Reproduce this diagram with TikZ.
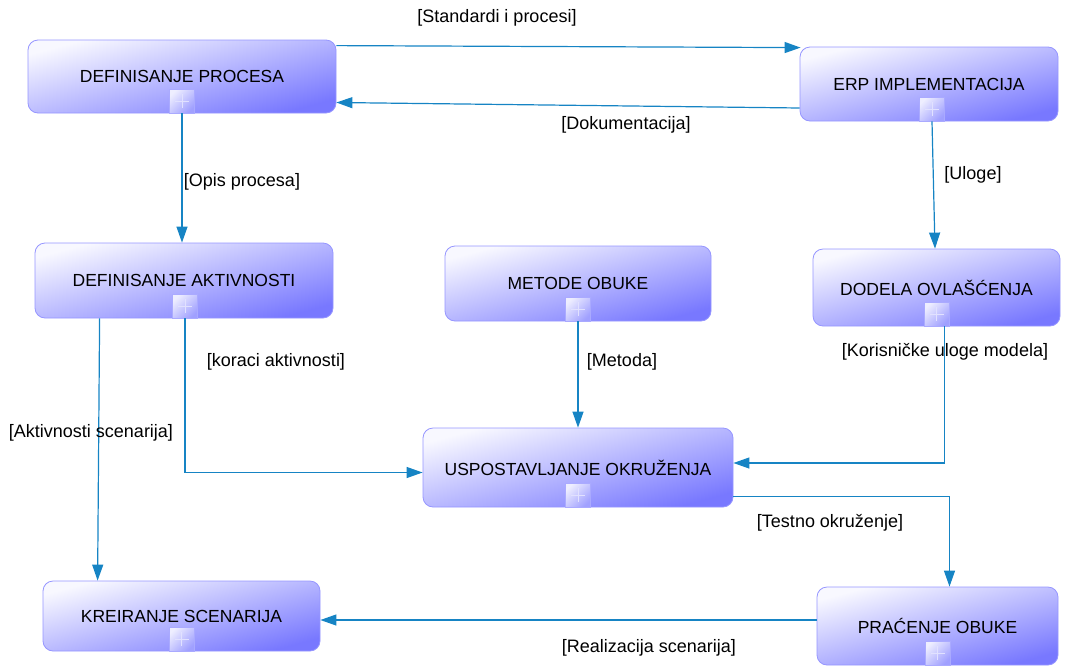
\documentclass[tikz,border=0pt]{standalone}
\usepackage{fontspec}
\setmainfont{Liberation Sans}
\usetikzlibrary{arrows.meta,calc}

\definecolor{linkblue}{RGB}{22,132,196}
\definecolor{boxtop}{RGB}{248,248,255}
\definecolor{boxbot}{RGB}{120,120,255}
\definecolor{boxedge}{RGB}{150,150,255}
\definecolor{plustop}{RGB}{238,238,255}
\definecolor{plusbot}{RGB}{160,160,255}
\definecolor{plusedge}{RGB}{170,170,255}
\definecolor{plusmark}{RGB}{225,225,255}

% linear gradients; the 25bp--75bp band is what gets fitted to the box
\pgfdeclareverticalshading{taskshade}{100bp}{color(0bp)=(boxbot); color(25bp)=(boxbot); color(75bp)=(boxtop); color(100bp)=(boxtop)}
\pgfdeclareverticalshading{plusshade}{100bp}{color(0bp)=(plusbot); color(25bp)=(plusbot); color(75bp)=(plustop); color(100bp)=(plustop)}

\tikzset{
  task/.style={draw=boxedge, line width=0.8pt, rounded corners=10pt,
    shading=taskshade, shading angle=15,
    inner sep=0pt, align=center, font=\fontsize{17.5}{20}\selectfont},
  plusbox/.style={draw=plusedge, line width=0.7pt, anchor=south,
    minimum width=25pt, minimum height=24pt, inner sep=0pt,
    shading=plusshade, shading angle=45},
  plusmarkline/.style={draw=plusmark, line width=1pt},
  link/.style={draw=linkblue, line width=1.2pt,
    -{Triangle[length=16pt,width=11pt]}},
  flowlabel/.style={inner sep=0pt, font=\fontsize{18}{21}\selectfont}
}

\begin{document}
\begin{tikzpicture}[x=1pt, y=-1pt]
  \useasboundingbox (0,0) rectangle (1066,670);

  % process boxes
  \node[task, minimum width=308pt, minimum height=73pt] (dp)  at (182,76.5)  {DEFINISANJE PROCESA};
  \node[task, minimum width=258pt, minimum height=74pt] (erp) at (929,84)    {ERP IMPLEMENTACIJA};
  \node[task, minimum width=298pt, minimum height=75pt] (da)  at (184,280.5) {DEFINISANJE AKTIVNOSTI};
  \node[task, minimum width=266pt, minimum height=75pt] (mo)  at (578,283.5) {METODE OBUKE};
  \node[task, minimum width=247pt, minimum height=77pt] (dod) at (936.5,287.5) {DODELA OVLAŠĆENJA};
  \node[task, minimum width=310pt, minimum height=79pt] (usp) at (578,467.5) {USPOSTAVLJANJE OKRUŽENJA};
  \node[task, minimum width=277pt, minimum height=70pt] (ks)  at (181.5,616) {KREIRANJE SCENARIJA};
  \node[task, minimum width=241pt, minimum height=78pt] (po)  at (937.5,626) {PRAĆENJE OBUKE};

  % expand markers
  \node[plusbox] (dpp)  at (dp.south)  {};
  \node[plusbox] (erpp) at ($(erp.south)+(3,0)$) {};
  \node[plusbox] (dap)  at ($(da.south)+(1,0)$)  {};
  \node[plusbox] (mop)  at (mo.south)  {};
  \node[plusbox] (dodp) at (dod.south) {};
  \node[plusbox] (uspp) at (usp.south) {};
  \node[plusbox] (ksp)  at (ks.south)  {};
  \node[plusbox] (pop)  at (po.south)  {};
  \foreach \m in {dpp,erpp,dap,mop,dodp,uspp,ksp,pop}{
    \draw[plusmarkline] ($(\m.center)+(-7,0)$) -- ($(\m.center)+(7,0)$);
    \draw[plusmarkline] ($(\m.center)+(0,-7)$) -- ($(\m.center)+(0,7)$);
  }

  % flows
  \draw[link] ($(dp.north east)+(0,6)$) -- ($(erp.north west)+(1,1)$);
  \draw[link] ($(erp.west)+(0,24)$) -- ($(dp.east)+(0,26)$);
  \draw[link] (dpp.south) -- (dpp.south |- da.north);
  \draw[link] (erpp.south) -- ($(erpp.south |- dod.north)+(3,0)$);
  \draw[link] (dap.south) |- ($(usp.west)+(0,5)$);
  \draw[link] ($(da.south west)+(65,0)$) -- ($(ks.north west)+(55,0)$);
  \draw[link] (mop.south) -- (mop.south |- usp.north);
  \draw[link] ($(dodp.south)+(8,0)$) |- ($(usp.east)+(0,-4.5)$);
  \draw[link] ($(usp.east)+(0,29)$) -| ($(po.north)+(12,0)$);
  \draw[link] ($(po.west)+(0,-6)$) -- ($(ks.east)+(0,4)$);

  % flow labels
  \node[flowlabel] (l1)  at (497,18)  {[Standardi i procesi]};
  \node[flowlabel] (l2)  at (626,125) {[Dokumentacija]};
  \node[flowlabel] (l3)  at (242,182) {[Opis procesa]};
  \node[flowlabel] (l4)  at (973,175) {[Uloge]};
  \node[flowlabel] (l5)  at (276,362) {[koraci aktivnosti]};
  \node[flowlabel] (l6)  at (91,433)  {[Aktivnosti scenarija]};
  \node[flowlabel] (l7)  at (622,362) {[Metoda]};
  \node[flowlabel] (l8)  at (945,352) {[Korisničke uloge modela]};
  \node[flowlabel] (l9)  at (830,523) {[Testno okruženje]};
  \node[flowlabel] (l10) at (649,648) {[Realizacija scenarija]};
\end{tikzpicture}
\end{document}
